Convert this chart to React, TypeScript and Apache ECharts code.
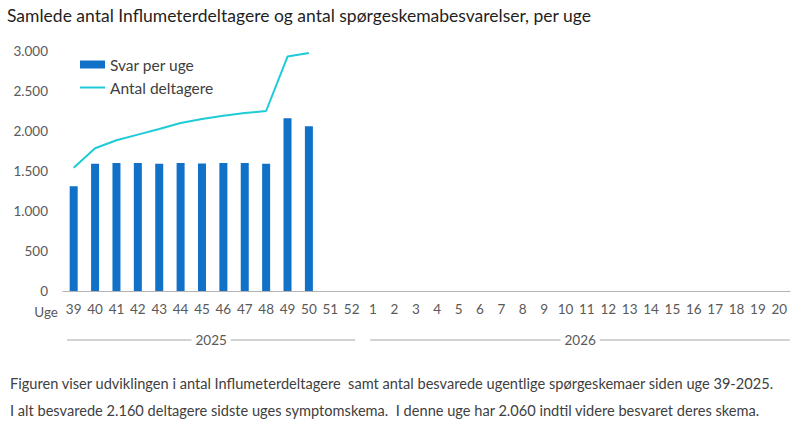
import React, { useEffect, useRef } from 'react';
import * as echarts from 'echarts';

// Uger (kategorier) fra uge 39-2025 til uge 20-2026
const weeks = [
  '39', '40', '41', '42', '43', '44', '45', '46', '47', '48', '49', '50', '51', '52',
  '1', '2', '3', '4', '5', '6', '7', '8', '9', '10', '11', '12', '13', '14', '15', '16', '17', '18', '19', '20'
];

// Svar per uge (søjler)
const svarPerUge = [1310, 1590, 1600, 1600, 1590, 1600, 1595, 1600, 1600, 1590, 2160, 2060];

// Antal deltagere (linje)
const antalDeltagere = [1540, 1785, 1885, 1955, 2025, 2100, 2150, 2190, 2225, 2250, 2930, 2975];

// År-grupper under x-aksen
const yearGroups = [
  { label: '2025', first: '39', last: '52' },
  { label: '2026', first: '1', last: '20' }
];

const titleText = 'Samlede antal Influmeterdeltagere og antal spørgeskemabesvarelser, per uge';
const footerLines = [
  'Figuren viser udviklingen i antal Influmeterdeltagere  samt antal besvarede ugentlige spørgeskemaer siden uge 39-2025.',
  'I alt besvarede 2.160 deltagere sidste uges symptomskema.  I denne uge har 2.060 indtil videre besvaret deres skema.'
];

const FONT = 'Lato, "Open Sans", sans-serif';

const formatDa = (v: number) => String(v).replace(/\B(?=(\d{3})+(?!\d))/g, '.');

export default function App() {
  const chartRef = useRef<HTMLDivElement>(null);

  useEffect(() => {
    if (!chartRef.current) return;
    const chart = echarts.init(chartRef.current, undefined, { renderer: 'svg' });

    const option: echarts.EChartsOption = {
      animation: false,
      backgroundColor: '#ffffff',
      textStyle: { fontFamily: FONT },
      title: {
        text: titleText,
        left: 7,
        top: 6,
        padding: 0,
        textStyle: { fontFamily: FONT, fontSize: 17.5, fontWeight: 'normal', color: '#1f1f1f' }
      },
      legend: {
        orient: 'vertical',
        left: 80,
        top: 56,
        padding: 0,
        itemWidth: 25,
        itemHeight: 8,
        itemGap: 6,
        symbolKeepAspect: true,
        textStyle: { fontFamily: FONT, fontSize: 15.5, color: '#404040', lineHeight: 17 },
        data: [
          { name: 'Svar per uge', icon: 'rect' },
          { name: 'Antal deltagere', icon: 'path://M0,0h25v2h-25z' }
        ]
      },
      grid: { left: 63, right: 10, top: 51, bottom: 138 },
      xAxis: {
        type: 'category',
        data: weeks,
        axisLine: { lineStyle: { color: '#b3b3b3' } },
        axisTick: { length: 5, lineStyle: { color: '#b3b3b3' } },
        axisLabel: { interval: 0, margin: 11, fontSize: 13.5, color: '#595959', fontFamily: FONT }
      },
      yAxis: {
        type: 'value',
        min: 0,
        max: 3000,
        interval: 500,
        axisLine: { show: false },
        axisTick: { show: false },
        splitLine: { show: false },
        axisLabel: {
          margin: 15,
          fontSize: 13.5,
          color: '#595959',
          fontFamily: FONT,
          formatter: (v: number) => formatDa(v)
        }
      },
      series: [
        {
          name: 'Svar per uge',
          type: 'bar',
          data: svarPerUge,
          barWidth: 8,
          itemStyle: { color: '#1170c8' }
        },
        {
          name: 'Antal deltagere',
          type: 'line',
          data: antalDeltagere,
          symbol: 'none',
          lineStyle: { color: '#1ecbd6', width: 2 },
          itemStyle: { color: '#1ecbd6' }
        }
      ]
    };

    chart.setOption(option);

    // År-linjer og tekster, placeret ud fra aksens egne positioner
    const p0 = chart.convertToPixel({ xAxisIndex: 0 }, weeks[0]) as number;
    const p1 = chart.convertToPixel({ xAxisIndex: 0 }, weeks[1]) as number;
    const half = (p1 - p0) / 2;
    const axisY = chart.convertToPixel({ yAxisIndex: 0 }, 0) as number;
    const yearY = axisY + 49;

    const graphics: any[] = [
      {
        type: 'text',
        x: p0 - half - 5,
        y: axisY + 21,
        style: {
          text: 'Uge',
          fontFamily: FONT,
          fontSize: 13.5,
          fill: '#595959',
          align: 'right',
          verticalAlign: 'middle'
        }
      }
    ];

    yearGroups.forEach((g, i) => {
      const a = (chart.convertToPixel({ xAxisIndex: 0 }, g.first) as number) - half + (i === 0 ? 4 : 8);
      const b = (chart.convertToPixel({ xAxisIndex: 0 }, g.last) as number) + half - (i === 0 ? 7 : 0);
      graphics.push({
        type: 'line',
        shape: { x1: a, y1: yearY, x2: b, y2: yearY },
        style: { stroke: '#a6a6a6', lineWidth: 1 }
      });
      graphics.push({
        type: 'text',
        x: (a + b) / 2,
        y: yearY,
        style: {
          text: g.label,
          fontFamily: FONT,
          fontSize: 13.5,
          fill: '#595959',
          align: 'center',
          verticalAlign: 'middle',
          backgroundColor: '#ffffff',
          padding: [0, 4]
        }
      });
    });

    footerLines.forEach((line, i) => {
      graphics.push({
        type: 'text',
        x: 10,
        y: 383 + i * 27,
        style: {
          text: line,
          fontFamily: FONT,
          fontSize: 14.6,
          fill: '#404040',
          align: 'left',
          verticalAlign: 'middle'
        }
      });
    });

    chart.setOption({ graphic: graphics });

    return () => {
      chart.dispose();
    };
  }, []);

  return (
    <div
      ref={chartRef}
      style={{ position: 'fixed', left: 0, top: 0, width: 800, height: 429 }}
    />
  );
}
